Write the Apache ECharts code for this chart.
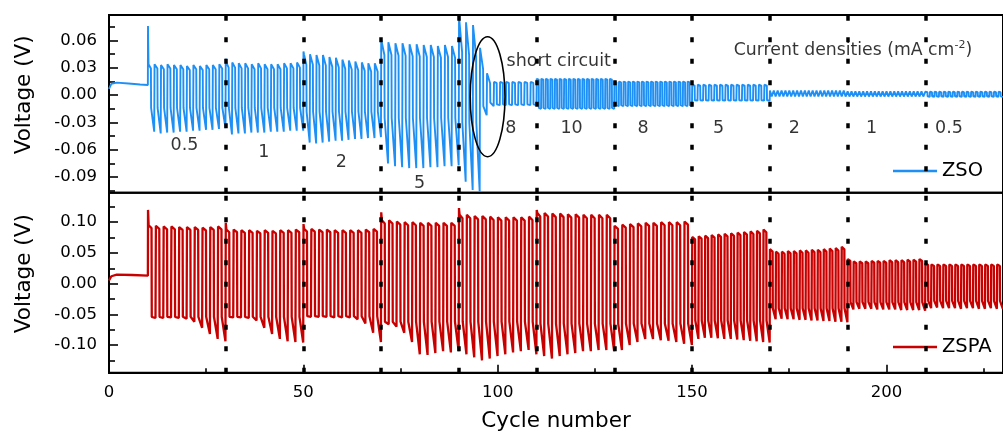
<!DOCTYPE html>
<html>
<head>
<meta charset="utf-8">
<script src="https://cdn.jsdelivr.net/npm/echarts@6/dist/echarts.min.js"></script>
<style>
html,body{margin:0;padding:0;background:#fff;}
#chart{width:1003px;height:437px;}
</style>
</head>
<body>
<div id="chart"></div>
<script>
// ---------------- data ----------------
const dividerCycles = [30, 50, 70, 90, 110, 130, 150, 170, 190, 210];
const xTickValues = [0, 50, 100, 150, 200];
const xMinorTicks = [25, 75, 125, 175, 225];
const zsoTickValues = [-0.09, -0.06, -0.03, 0, 0.03, 0.06];
const zsoMinorTicks = [-0.105, -0.075, -0.045, -0.015, 0.015, 0.045, 0.075];
const zspaTickValues = [-0.10, -0.05, 0, 0.05, 0.10];
const zspaMinorTicks = [-0.125, -0.075, -0.025, 0.025, 0.075, 0.125];

// ZSO (top panel)
const zsoRestX = [0, 0.6, 2, 5, 8, 10];
const zsoRestY = [0.007, 0.0125, 0.0138, 0.0128, 0.0118, 0.0112];
const zsoSegStart  = [10, 30, 50, 70, 90, 99, 110, 130, 150, 170, 190, 210];
const zsoSegEnd    = [30, 50, 70, 90, 99, 110, 130, 150, 170, 190, 210, 230];
const zsoSegCycles = [12, 12, 12, 11, 5, 7, 17, 17, 14, 20, 20, 17];
const zsoSegSpike  = [0.076, 0.040, 0.048, 0.061, null, null, null, null, null, null, null, null];
const zsoPeakHigh = [
  [0.034, 0.034, 0.033, 0.034, 0.033, 0.033, 0.032, 0.033, 0.032, 0.033, 0.033, 0.034],
  [0.036, 0.036, 0.035, 0.035, 0.034, 0.035, 0.034, 0.034, 0.034, 0.035, 0.035, 0.036],
  [0.045, 0.045, 0.044, 0.044, 0.042, 0.041, 0.039, 0.038, 0.037, 0.036, 0.035, 0.035],
  [0.058, 0.058, 0.057, 0.057, 0.056, 0.056, 0.055, 0.055, 0.054, 0.055, 0.054],
  [0.086, 0.080, 0.077, 0.052, 0.024],
  0.0145, 0.018, 0.015, 0.0115, 0.0052, 0.0042, 0.0038
];
const zsoHighFade = [0.86, 0.84, 0.74, 0.76, 0.55, 0.93, 0.95, 0.94, 0.92, 0.85, 0.85, 0.85];
const zsoPlateauLow = [-0.014, -0.014, -0.018, -0.025, [-0.03, -0.03, -0.03, -0.012, -0.008],
  -0.010, -0.014, -0.011, -0.0055, -0.0015, -0.0015, -0.0012];
const zsoPeakLow = [
  [-0.040, -0.042, -0.041, -0.041, -0.040, -0.040, -0.039, -0.039, -0.038, -0.038, -0.037, -0.036],
  [-0.043, -0.042, -0.042, -0.041, -0.041, -0.041, -0.040, -0.040, -0.040, -0.039, -0.039, -0.039],
  [-0.052, -0.053, -0.052, -0.051, -0.050, -0.050, -0.049, -0.048, -0.048, -0.047, -0.047, -0.046],
  [-0.075, -0.078, -0.079, -0.080, -0.080, -0.080, -0.079, -0.079, -0.078, -0.078, -0.077],
  [-0.095, -0.104, -0.106, -0.022, -0.012],
  -0.011, -0.015, -0.012, -0.006, -0.002, -0.002, -0.0018
];

// ZSPA (bottom panel)
const zspaRestX = [0, 0.6, 2, 6, 10];
const zspaRestY = [0.005, 0.012, 0.0145, 0.014, 0.013];
const zspaSegStart  = [10, 30, 50, 70, 90, 110, 130, 150, 170, 190, 210];
const zspaSegEnd    = [30, 50, 70, 90, 110, 130, 150, 170, 190, 210, 230];
const zspaSegCycles = [10, 10, 10, 10, 10, 10, 10, 12, 13, 13, 13];
const zspaSegSpike  = [0.120, 0.099, 0.097, 0.116, 0.123, 0.120, null, null, null, null, null];
const zspaPeakHigh = [
  [0.095, 0.094, 0.093, 0.093, 0.092, 0.092, 0.092, 0.091, 0.092, 0.093],
  [0.088, 0.088, 0.087, 0.087, 0.086, 0.087, 0.086, 0.087, 0.087, 0.088],
  [0.089, 0.089, 0.088, 0.088, 0.087, 0.087, 0.087, 0.087, 0.088, 0.089],
  [0.103, 0.103, 0.101, 0.100, 0.100, 0.099, 0.099, 0.099, 0.099, 0.099],
  [0.112, 0.112, 0.110, 0.110, 0.109, 0.108, 0.108, 0.108, 0.108, 0.109],
  [0.115, 0.115, 0.114, 0.114, 0.113, 0.113, 0.112, 0.112, 0.112, 0.112],
  [0.094, 0.096, 0.097, 0.098, 0.099, 0.099, 0.100, 0.100, 0.100, 0.101],
  [0.076, 0.077, 0.078, 0.079, 0.080, 0.081, 0.082, 0.083, 0.084, 0.085, 0.086, 0.088],
  [0.056, 0.052, 0.052, 0.053, 0.053, 0.054, 0.054, 0.055, 0.055, 0.056, 0.057, 0.058, 0.060],
  [0.040, 0.036, 0.036, 0.036, 0.037, 0.037, 0.037, 0.038, 0.038, 0.038, 0.039, 0.039, 0.040],
  [0.033, 0.031, 0.031, 0.031, 0.031, 0.031, 0.031, 0.031, 0.031, 0.031, 0.031, 0.031, 0.031]
];
const zspaHighFade = [0.95, 0.95, 0.95, 0.95, 0.95, 0.95, 0.95, 0.95, 0.93, 0.92, 0.92];
const zspaPlateauLow = [-0.054, -0.054, -0.053, -0.062, -0.062, -0.065, -0.065, -0.060, -0.040, -0.030, -0.028];
const zspaPeakLow = [
  [-0.056, -0.056, -0.055, -0.056, -0.057, -0.062, -0.072, -0.082, -0.090, -0.094],
  [-0.055, -0.055, -0.056, -0.060, -0.072, -0.082, -0.090, -0.094, -0.095, -0.096],
  [-0.054, -0.054, -0.054, -0.055, -0.055, -0.055, -0.058, -0.065, -0.080, -0.095],
  [-0.066, -0.070, -0.080, -0.095, -0.115, -0.116, -0.113, -0.110, -0.112, -0.110],
  [-0.115, -0.120, -0.125, -0.122, -0.118, -0.115, -0.112, -0.110, -0.108, -0.115],
  [-0.118, -0.122, -0.118, -0.115, -0.113, -0.110, -0.110, -0.108, -0.108, -0.110],
  [-0.108, -0.100, -0.095, -0.090, -0.090, -0.092, -0.093, -0.095, -0.098, -0.100],
  [-0.090, -0.088, -0.088, -0.089, -0.090, -0.090, -0.091, -0.092, -0.093, -0.094, -0.095, -0.096],
  [-0.058, -0.057, -0.058, -0.058, -0.059, -0.059, -0.060, -0.060, -0.061, -0.061, -0.062, -0.062, -0.063],
  [-0.042, -0.041, -0.041, -0.041, -0.042, -0.042, -0.042, -0.042, -0.043, -0.043, -0.043, -0.043, -0.044],
  [-0.040, -0.039, -0.040, -0.040, -0.040, -0.041, -0.040, -0.040, -0.041, -0.041, -0.040, -0.041, -0.041]
];

// annotations (top panel, data coordinates)
const densityLabelX = [19.4, 39.8, 59.8, 79.9, 103.4, 119.0, 137.4, 156.8, 176.3, 196.2, 216.1];
const densityLabelY = [-0.0547, -0.0623, -0.0733, -0.0964, -0.036, -0.036, -0.036, -0.036, -0.036, -0.036, -0.036];
const densityLabelText = ['0.5', '1', '2', '5', '8', '10', '8', '5', '2', '1', '0.5'];
const shortCircuitText = ['short circuit', 115.7, 0.0368];
const densityTitle = ['Current densities (mA cm', '-2', ')', 191.4, 0.0485];
const shortCircuitEllipse = [97.4, -0.0017, 4.47, 0.0658]; // cx, cy, rx, ry (data units)

// ---------------- build ----------------
function pick(v, i) { return Array.isArray(v) ? v[i] : v; }
function buildWave(restX, restY, st, en, cyc, spike, hiArr, fade, loPlat, loArr, kLow) {
  const pts = restX.map((x, i) => [x, restY[i]]);
  for (let s = 0; s < st.length; s++) {
    const P = (en[s] - st[s]) / cyc[s];
    for (let i = 0; i < cyc[s]; i++) {
      const t = st[s] + i * P;
      const hi = pick(hiArr[s], i), lo = pick(loArr[s], i), lp = pick(loPlat[s], i);
      if (i === 0 && spike[s] != null) {
        pts.push([t + 0.02 * P, spike[s]]);
        pts.push([t + 0.1 * P, hi]);
      } else {
        pts.push([t + 0.03 * P, hi]);
      }
      pts.push([t + 0.47 * P, hi * fade[s]]);
      pts.push([t + 0.5 * P, lp]);
      pts.push([t + kLow * P, lp]);
      pts.push([t + 0.98 * P, lo]);
    }
  }
  return pts;
}
const zsoData = buildWave(zsoRestX, zsoRestY, zsoSegStart, zsoSegEnd, zsoSegCycles, zsoSegSpike,
  zsoPeakHigh, zsoHighFade, zsoPlateauLow, zsoPeakLow, 0.55);
const zspaData = buildWave(zspaRestX, zspaRestY, zspaSegStart, zspaSegEnd, zspaSegCycles, zspaSegSpike,
  zspaPeakHigh, zspaHighFade, zspaPlateauLow, zspaPeakLow, 0.75);

const FONT = 'DejaVu Sans';
const BLUE = '#1e90f5';
const RED = '#c80000';
const XMAX = 230;

const dividerLine = {
  silent: true, symbol: 'none', animation: false,
  label: { show: false },
  lineStyle: { color: '#000', width: 3.5, type: [5, 16.5] },
  data: dividerCycles.map(x => ({ xAxis: x }))
};

function yMain(grid, min, max, vals) {
  return {
    type: 'value', gridIndex: grid, min: min, max: max, position: 'left',
    axisLine: { show: true, onZero: false, lineStyle: { color: '#000', width: 2 } },
    axisTick: { show: true, inside: true, length: 9, customValues: vals, lineStyle: { color: '#000', width: 1.6 } },
    axisLabel: { show: true, customValues: vals, margin: 12, color: '#000', fontFamily: FONT, fontSize: 16.5,
      formatter: v => v.toFixed(2) },
    splitLine: { show: false },
    name: 'Voltage (V)', nameLocation: 'middle', nameRotate: 90, nameGap: 74,
    nameTextStyle: { fontFamily: FONT, fontSize: 21.5, color: '#000', padding: [0, 0, 0, 18] }
  };
}
function yMinor(grid, min, max, vals) {
  return {
    type: 'value', gridIndex: grid, min: min, max: max, position: 'left', offset: 0,
    axisLine: { show: false, onZero: false },
    axisTick: { show: true, inside: true, length: 6, customValues: vals, lineStyle: { color: '#000', width: 1.6 } },
    axisLabel: { show: false }, splitLine: { show: false }
  };
}

const option = {
  animation: false,
  backgroundColor: '#fff',
  grid: [
    { left: 109, top: 15, width: 900.5, height: 177.7, show: true, borderColor: '#000', borderWidth: 2, containLabel: false },
    { left: 109, top: 192.7, width: 900.5, height: 180, show: true, borderColor: '#000', borderWidth: 2, containLabel: false }
  ],
  xAxis: [
    { type: 'value', gridIndex: 0, min: 0, max: XMAX, axisLine: { show: false, onZero: false }, axisTick: { show: false },
      axisLabel: { show: false }, splitLine: { show: false } },
    { type: 'value', gridIndex: 1, min: 0, max: XMAX, position: 'bottom',
      axisLine: { show: true, onZero: false, lineStyle: { color: '#000', width: 2 } },
      axisTick: { show: true, inside: true, length: 8, customValues: xTickValues, lineStyle: { color: '#000', width: 1.6 } },
      axisLabel: { show: true, customValues: xTickValues, margin: 12, color: '#000', fontFamily: FONT, fontSize: 16.5 },
      splitLine: { show: false },
      name: 'Cycle number', nameLocation: 'middle', nameGap: 38,
      nameTextStyle: { fontFamily: FONT, fontSize: 21.5, color: '#000' } },
    { type: 'value', gridIndex: 1, min: 0, max: XMAX, position: 'bottom', offset: 0,
      axisLine: { show: false, onZero: false },
      axisTick: { show: true, inside: true, length: 4.5, customValues: xMinorTicks, lineStyle: { color: '#000', width: 1.6 } },
      axisLabel: { show: false }, splitLine: { show: false } }
  ],
  yAxis: [
    yMain(0, -0.107, 0.088, zsoTickValues),
    yMinor(0, -0.107, 0.088, zsoMinorTicks),
    yMain(1, -0.145, 0.148, zspaTickValues),
    yMinor(1, -0.145, 0.148, zspaMinorTicks)
  ],
  legend: [
    { data: ['ZSO'], left: 893, top: 161, padding: 0, icon: 'rect', itemWidth: 44, itemHeight: 2.5,
      textStyle: { fontFamily: FONT, fontSize: 19.5, color: '#000' }, selectedMode: false },
    { data: ['ZSPA'], left: 893, top: 337, padding: 0, icon: 'rect', itemWidth: 44, itemHeight: 2.5,
      textStyle: { fontFamily: FONT, fontSize: 19.5, color: '#000' }, selectedMode: false }
  ],
  series: [
    { name: 'ZSO', type: 'line', xAxisIndex: 0, yAxisIndex: 0, data: zsoData, showSymbol: false, symbol: 'none',
      lineStyle: { color: BLUE, width: 1.9 }, itemStyle: { color: BLUE }, markLine: dividerLine, z: 2 },
    { name: 'ZSPA', type: 'line', xAxisIndex: 1, yAxisIndex: 2, data: zspaData, showSymbol: false, symbol: 'none',
      lineStyle: { color: RED, width: 2.3 }, itemStyle: { color: RED }, markLine: dividerLine, z: 2 },
    { name: 'labels', type: 'scatter', xAxisIndex: 0, yAxisIndex: 0, symbolSize: 1, silent: true,
      itemStyle: { color: 'rgba(0,0,0,0)' }, z: 5,
      label: { show: true, position: 'inside', formatter: '{b}', color: '#000', fontFamily: FONT, fontSize: 17.5 },
      data: densityLabelX.map((x, i) => ({ name: densityLabelText[i], value: [x, densityLabelY[i]] })).concat([
        { name: shortCircuitText[0], value: [shortCircuitText[1], shortCircuitText[2]] },
        { name: 'title', value: [densityTitle[3], densityTitle[4]],
          label: { formatter: '{a|' + densityTitle[0] + '}{s|' + densityTitle[1] + '}{a|' + densityTitle[2] + '}',
            rich: { a: { fontFamily: FONT, fontSize: 17.3, color: '#000', lineHeight: 22 },
                    s: { fontFamily: FONT, fontSize: 11, color: '#000', lineHeight: 12, verticalAlign: 'top' } } } }
      ])
    }
  ]
};

const chart = echarts.init(document.getElementById('chart'), null, { renderer: 'canvas' });
chart.setOption(option);

// ellipse around the short-circuit region, placed through the top grid's scales
const c = chart.convertToPixel({ gridIndex: 0 }, [shortCircuitEllipse[0], shortCircuitEllipse[1]]);
const e = chart.convertToPixel({ gridIndex: 0 }, [shortCircuitEllipse[0] + shortCircuitEllipse[2], shortCircuitEllipse[1] + shortCircuitEllipse[3]]);
chart.setOption({
  graphic: [{
    type: 'ellipse', silent: true, z: 10,
    shape: { cx: c[0], cy: c[1], rx: Math.abs(e[0] - c[0]), ry: Math.abs(c[1] - e[1]) },
    style: { fill: 'none', stroke: '#000', lineWidth: 1.6 }
  }]
});
</script>
</body>
</html>
